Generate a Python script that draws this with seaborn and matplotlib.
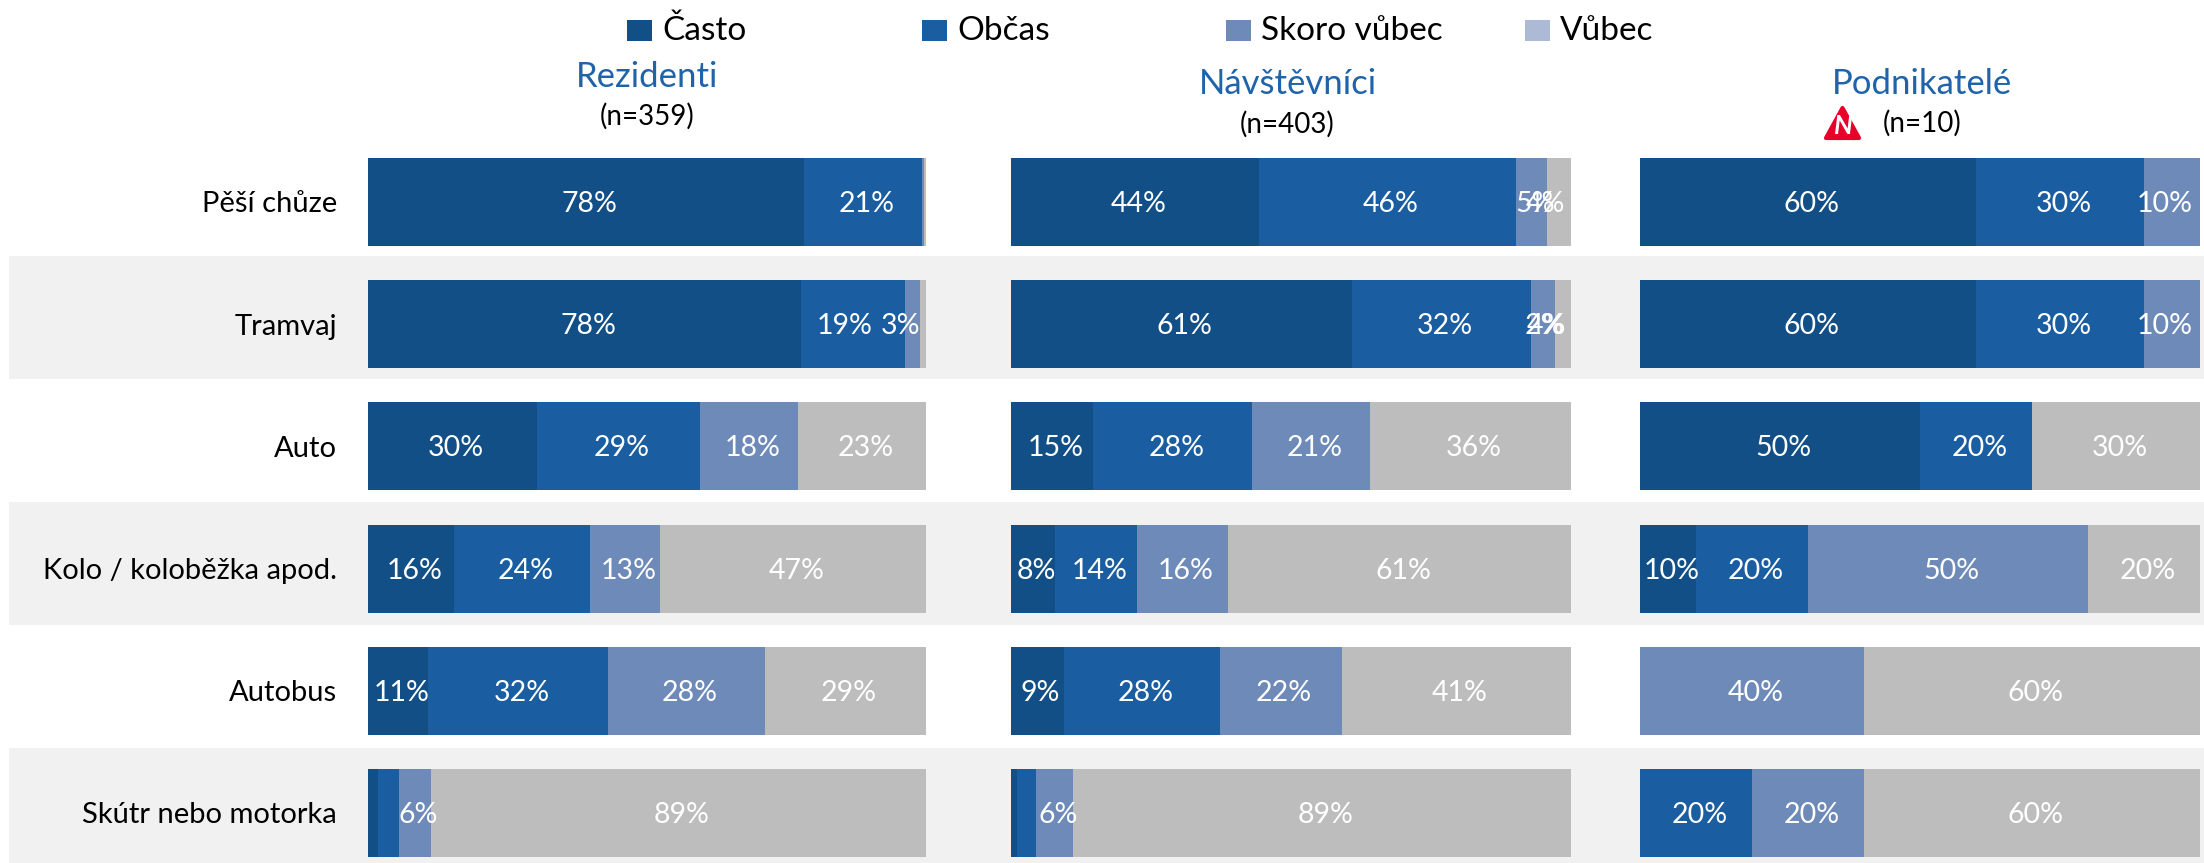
import pandas as pd
import matplotlib
matplotlib.use("Agg")
import matplotlib.pyplot as plt
import seaborn as sns
from matplotlib.patches import Polygon, Rectangle

sns.set_theme(style="white")
plt.rcParams["font.family"] = ["Lato", "DejaVu Sans"]

# Data
levels = ["Často", "Občas", "Skoro vůbec", "Vůbec"]
modes = ["Pěší chůze", "Tramvaj", "Auto", "Kolo / koloběžka apod.", "Autobus", "Skútr nebo motorka"]
groups = ["Rezidenti", "Návštěvníci", "Podnikatelé"]
counts = ["(n=359)", "(n=403)", "(n=10)"]

rezidenti = [
    [78.1, 21.2, 0.4, 0.3],
    [77.6, 18.7, 2.6, 1.1],
    [30.2, 29.3, 17.6, 22.9],
    [15.5, 24.2, 12.7, 47.6],
    [10.8, 32.2, 28.1, 28.9],
    [1.8, 3.8, 5.7, 88.7],
]
navstevnici = [
    [44.3, 45.9, 5.5, 4.3],
    [60.9, 32.0, 4.2, 2.9],
    [14.8, 28.3, 21.0, 35.9],
    [8.0, 14.5, 16.3, 61.2],
    [9.5, 27.8, 21.8, 40.9],
    [1.2, 3.4, 6.5, 88.9],
]
podnikatele = [
    [60, 30, 10, 0],
    [60, 30, 10, 0],
    [50, 20, 0, 30],
    [10, 20, 50, 20],
    [0, 0, 40, 60],
    [0, 20, 20, 60],
]
panel_values = [rezidenti, navstevnici, podnikatele]

labels_rezidenti = [
    ["78%", "21%", "", ""],
    ["78%", "19%", "3%", ""],
    ["30%", "29%", "18%", "23%"],
    ["16%", "24%", "13%", "47%"],
    ["11%", "32%", "28%", "29%"],
    ["", "", "6%", "89%"],
]
labels_navstevnici = [
    ["44%", "46%", "5%", "4%"],
    ["61%", "32%", "4%", "2%"],
    ["15%", "28%", "21%", "36%"],
    ["8%", "14%", "16%", "61%"],
    ["9%", "28%", "22%", "41%"],
    ["", "", "6%", "89%"],
]
labels_podnikatele = [
    ["60%", "30%", "10%", ""],
    ["60%", "30%", "10%", ""],
    ["50%", "20%", "", "30%"],
    ["10%", "20%", "50%", "20%"],
    ["", "", "40%", "60%"],
    ["", "20%", "20%", "60%"],
]
panel_labels = [labels_rezidenti, labels_navstevnici, labels_podnikatele]

bar_colors = ["#124F87", "#1A5DA0", "#6D8AB9", "#BDBDBD"]
legend_colors = ["#124F87", "#1A5DA0", "#6D8AB9", "#ADBAD6"]
title_color = "#1F63AB"

W, H = 2204, 863
DPI = 100
fig = plt.figure(figsize=(W / DPI, H / DPI), dpi=DPI)


def px(n):
    # pixels to points
    return n * 72 / DPI


# overlay in pixel coordinates for bands, legend and headings
bg = fig.add_axes([0, 0, 1, 1], zorder=0)
bg.set_xlim(0, W)
bg.set_ylim(H, 0)
bg.axis("off")
for y0, y1 in [(256, 379), (502, 625), (748, 863)]:
    bg.add_patch(Rectangle((9, y0), W - 9, y1 - y0, color="#F1F1F1", lw=0))

for name, color, x in zip(levels, legend_colors, [627, 922, 1226, 1525]):
    bg.add_patch(Rectangle((x, 20), 25, 21, color=color, lw=0))
    bg.text(x + 35, 31, name, fontsize=24, color="black", ha="left", va="center")

title_pos = [(647, 77, 647, 116), (1288, 84, 1287, 124), (1922, 84, 1922, 123)]
for name, n, (tx, ty, nx, ny) in zip(groups, counts, title_pos):
    bg.text(tx, ty, name, fontsize=25, color=title_color, ha="center", va="center")
    bg.text(nx, ny, n, fontsize=20, color="black", ha="center", va="center")

# small sample warning sign
bg.add_patch(Polygon([(1842.5, 108), (1859, 138), (1826, 138)], closed=True,
                     facecolor="#E8002B", edgecolor="#E8002B", lw=3, joinstyle="round"))
bg.text(1843, 126, "N", fontsize=19, color="white", fontweight="bold", fontstyle="italic",
        ha="center", va="center")

# label shifts in pixels where the labels sit off centre
nudges = {
    (0, 1, 1): -9, (0, 1, 2): -12,
    (1, 0, 3): -14, (1, 1, 3): -18,
    (2, 0, 2): -7, (2, 1, 2): -7,
}

panel_x = [(368, 926), (1010.5, 1571), (1640, 2200)]
for p, (x0, x1) in enumerate(panel_x):
    ax = fig.add_axes([x0 / W, 0, (x1 - x0) / W, 723 / H], zorder=1)
    ax.patch.set_alpha(0)

    df = pd.DataFrame(panel_values[p], columns=levels)
    df = df.div(df.sum(axis=1), axis=0) * 100
    cum = df.cumsum(axis=1)
    cum["mode"] = modes
    long = cum.melt(id_vars="mode", var_name="level", value_name="end")

    # overlapping bars, widest first, give the stack
    sns.barplot(
        data=long, y="mode", x="end", hue="level", order=modes,
        hue_order=levels[::-1], palette=dict(zip(levels, bar_colors)),
        dodge=False, width=0.72, saturation=1, legend=False, ax=ax, linewidth=0,
    )
    ax.set_xlim(0, 100)
    ax.set_ylim(5.41, -0.507)
    ax.set_xlabel("")
    ax.set_ylabel("")
    ax.set_xticks([])
    sns.despine(ax=ax, left=True, bottom=True)
    if p == 0:
        ax.tick_params(axis="y", length=0, pad=px(31), labelsize=21, labelcolor="black")
    else:
        ax.set_yticks([])

    for r in range(len(modes)):
        for c in range(len(levels)):
            text = panel_labels[p][r][c]
            if not text:
                continue
            mid = df.iloc[r, :c].sum() + df.iloc[r, c] / 2
            shift = nudges.get((p, r, c), 3.5)
            ax.annotate(text, (mid, r), xytext=(px(shift), px(-2)), textcoords="offset points",
                        ha="center", va="center", fontsize=20.5, color="white")

plt.savefig("out.png", dpi=DPI)
